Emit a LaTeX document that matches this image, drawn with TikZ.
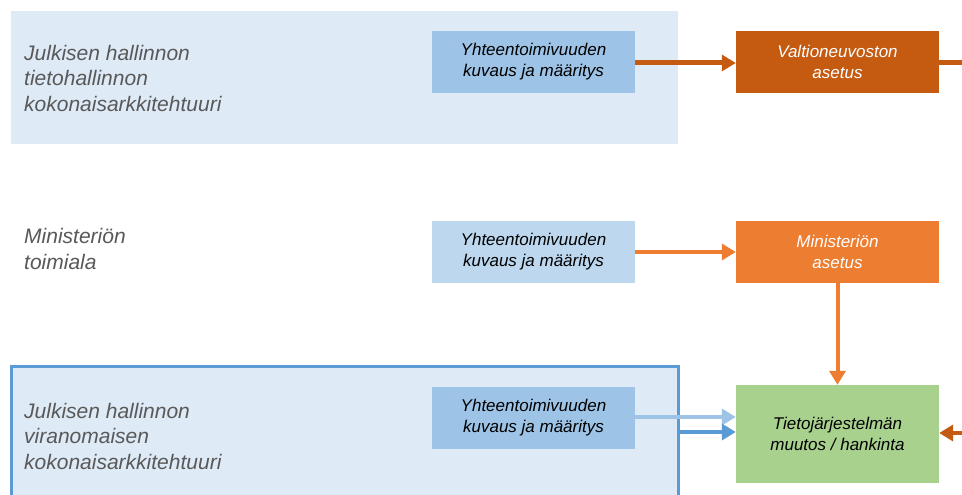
\documentclass[tikz,border=0pt]{standalone}
\usepackage{fontspec}
\setmainfont{Liberation Sans}
\usetikzlibrary{arrows.meta}
\definecolor{bgblue}{HTML}{DEEAF6}
\definecolor{boxblue}{HTML}{9DC3E6}
\definecolor{boxlight}{HTML}{BDD7EE}
\definecolor{frameblue}{HTML}{5B9BD5}
\definecolor{darkorange}{HTML}{C55A11}
\definecolor{midorange}{HTML}{ED7D31}
\definecolor{boxgreen}{HTML}{A9D18E}
\definecolor{labelgray}{HTML}{595959}
\tikzset{
  areabox/.style={fill=bgblue, draw=none},
  sidelabel/.style={anchor=west, align=left, text=labelgray, inner sep=0pt,
    font=\fontsize{21}{25.5}\selectfont\itshape},
  procbox/.style={minimum width=203pt, minimum height=62pt, inner sep=0pt, align=center,
    font=\fontsize{17}{21}\selectfont\itshape},
  conn/.style={line width=4.5pt, -{Triangle[length=14pt,width=16pt]}},
}
\begin{document}
\begin{tikzpicture}[x=1pt,y=-1pt]
\clip (0,0) rectangle (962,495);
\fill[white] (0,0) rectangle (962,495);
% areas
\fill[bgblue] (11,11) rectangle (678,144);
\draw[fill=bgblue, draw=frameblue, line width=3pt] (11,366) rectangle (678,520);
\coordinate (frameR) at (678,432);
% labels
\node[sidelabel] (l1) at (24,78) {Julkisen hallinnon\\tietohallinnon\\kokonaisarkkitehtuuri};
\node[sidelabel] (l2) at (24,249) {Ministeriön\\toimiala};
\node[sidelabel] (l3) at (24,436) {Julkisen hallinnon\\viranomaisen\\kokonaisarkkitehtuuri};
% boxes
\node[procbox, fill=boxblue] (b1) at (533.5,62) {Yhteentoimivuuden\\kuvaus ja määritys};
\node[procbox, fill=darkorange, text=white] (o1) at (837.5,62) {Valtioneuvoston\\asetus};
\node[procbox, fill=boxlight] (b2) at (533.5,252) {Yhteentoimivuuden\\kuvaus ja määritys};
\node[procbox, fill=midorange, text=white] (o2) at (837.5,252) {Ministeriön\\asetus};
\node[procbox, fill=boxblue] (b3) at (533.5,418) {Yhteentoimivuuden\\kuvaus ja määritys};
\node[procbox, fill=boxgreen, minimum height=98pt] (g) at (837.5,434) {Tietojärjestelmän\\muutos / hankinta};
% connectors
\coordinate (rightTop) at (970,63);
\coordinate (rightBot) at (970,433);
\draw[conn, darkorange, line width=5pt] (b1.east |- 0,63) -- (o1.west |- 0,63);
\draw[line width=5pt, darkorange] (o1.east |- 0,63) -- (rightTop);
\draw[conn, midorange, line width=4pt] (b2.east) -- (o2.west);
\draw[conn, midorange, line width=4pt] (o2.south) -- (g.north);
\draw[conn, boxblue] (b3.east |- 0,417) -- (g.west |- 0,417);
\draw[conn, frameblue] (frameR) -- (g.west |- frameR);
\draw[conn, darkorange] (rightBot) -- (g.east |- rightBot);
\end{tikzpicture}
\end{document}
